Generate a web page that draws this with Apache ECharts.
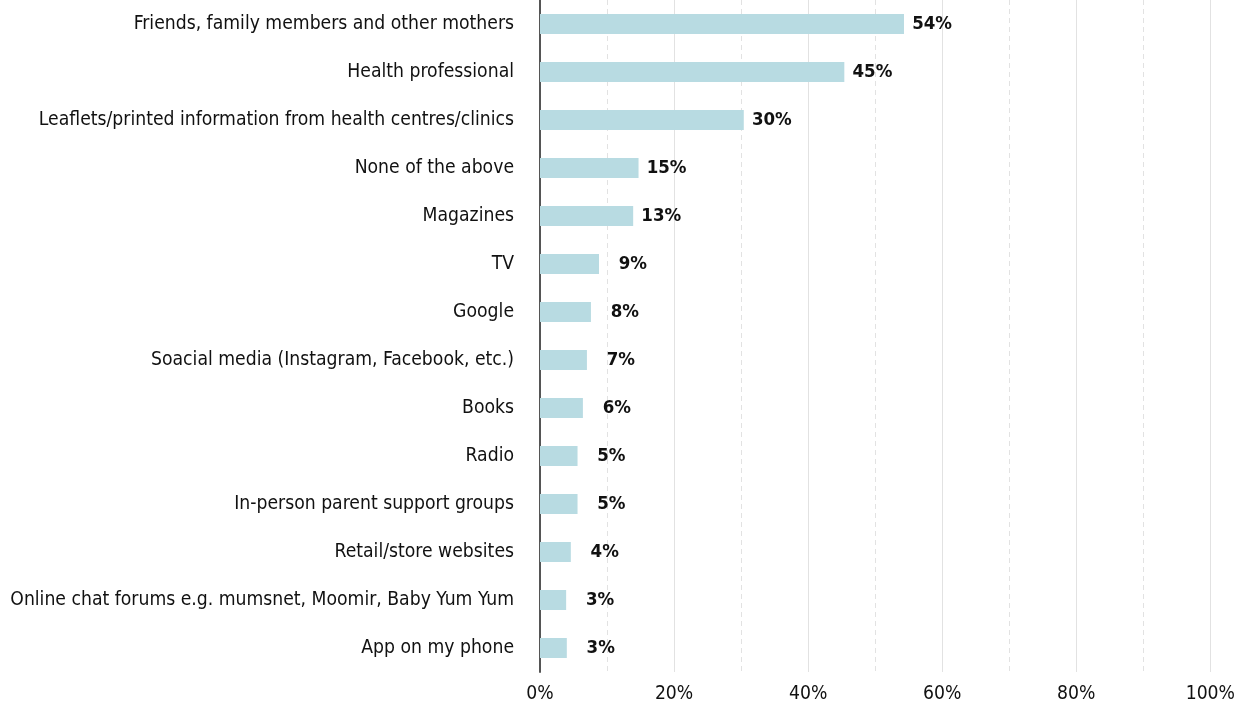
<!DOCTYPE html>
<html>
<head>
<meta charset="utf-8">
<script src="https://cdn.jsdelivr.net/npm/echarts@6/dist/echarts.min.js"></script>
<style>
html,body{margin:0;padding:0;background:#fff;}
#chart{width:1238px;height:708px;}
</style>
</head>
<body>
<div id="chart"></div>
<script>
const categories = [
  "Friends, family members and other mothers",
  "Health professional",
  "Leaflets/printed information from health centres/clinics",
  "None of the above",
  "Magazines",
  "TV",
  "Google",
  "Soacial media (Instagram, Facebook, etc.)",
  "Books",
  "Radio",
  "In-person parent support groups",
  "Retail/store websites",
  "Online chat forums e.g. mumsnet, Moomir, Baby Yum Yum",
  "App on my phone"
];
const values = [54.3, 45.4, 30.4, 14.7, 13.9, 8.8, 7.6, 7.0, 6.4, 5.6, 5.6, 4.6, 3.9, 4.0];
const valueLabels = ["54%","45%","30%","15%","13%","9%","8%","7%","6%","5%","5%","4%","3%","3%"];
const xTicks = [0, 20, 40, 60, 80, 100];

const FONT = "'DejaVu Sans Condensed', 'Liberation Sans Narrow', sans-serif";
const chart = echarts.init(document.getElementById('chart'), null, {renderer: 'canvas'});
chart.setOption({
  animation: false,
  backgroundColor: '#ffffff',
  grid: {left: 540, right: 26, top: -3, bottom: 36, containLabel: false},
  xAxis: {
    type: 'value',
    min: xTicks[0],
    max: xTicks[xTicks.length - 1],
    interval: 20,
    axisLine: {show: false},
    axisTick: {show: false},
    axisLabel: {
      color: '#111',
      fontFamily: FONT,
      fontSize: 19.2,
      margin: 13,
      formatter: v => v + '%'
    },
    splitLine: {show: true, lineStyle: {color: '#e2e2e2', width: 1, type: 'solid'}},
    minorTick: {show: false, splitNumber: 2},
    minorSplitLine: {show: true, lineStyle: {color: '#e2e2e2', width: 1, type: [5, 4]}}
  },
  yAxis: {
    type: 'category',
    data: categories,
    inverse: true,
    axisTick: {show: false},
    axisLine: {show: true, lineStyle: {color: '#555', width: 2}},
    axisLabel: {color: '#111', fontFamily: FONT, fontSize: 19.2, margin: 26},
    splitLine: {show: false}
  },
  series: [{
    type: 'bar',
    data: values,
    barWidth: 20,
    itemStyle: {color: '#b8dbe2'},
    label: {
      show: true,
      position: ['100%', '50%'],
      offset: [48, 0],
      align: 'right',
      verticalAlign: 'middle',
      fontFamily: FONT,
      fontWeight: 'bold',
      fontSize: 18.5,
      color: '#111',
      formatter: p => valueLabels[p.dataIndex]
    }
  }]
});
</script>
</body>
</html>
